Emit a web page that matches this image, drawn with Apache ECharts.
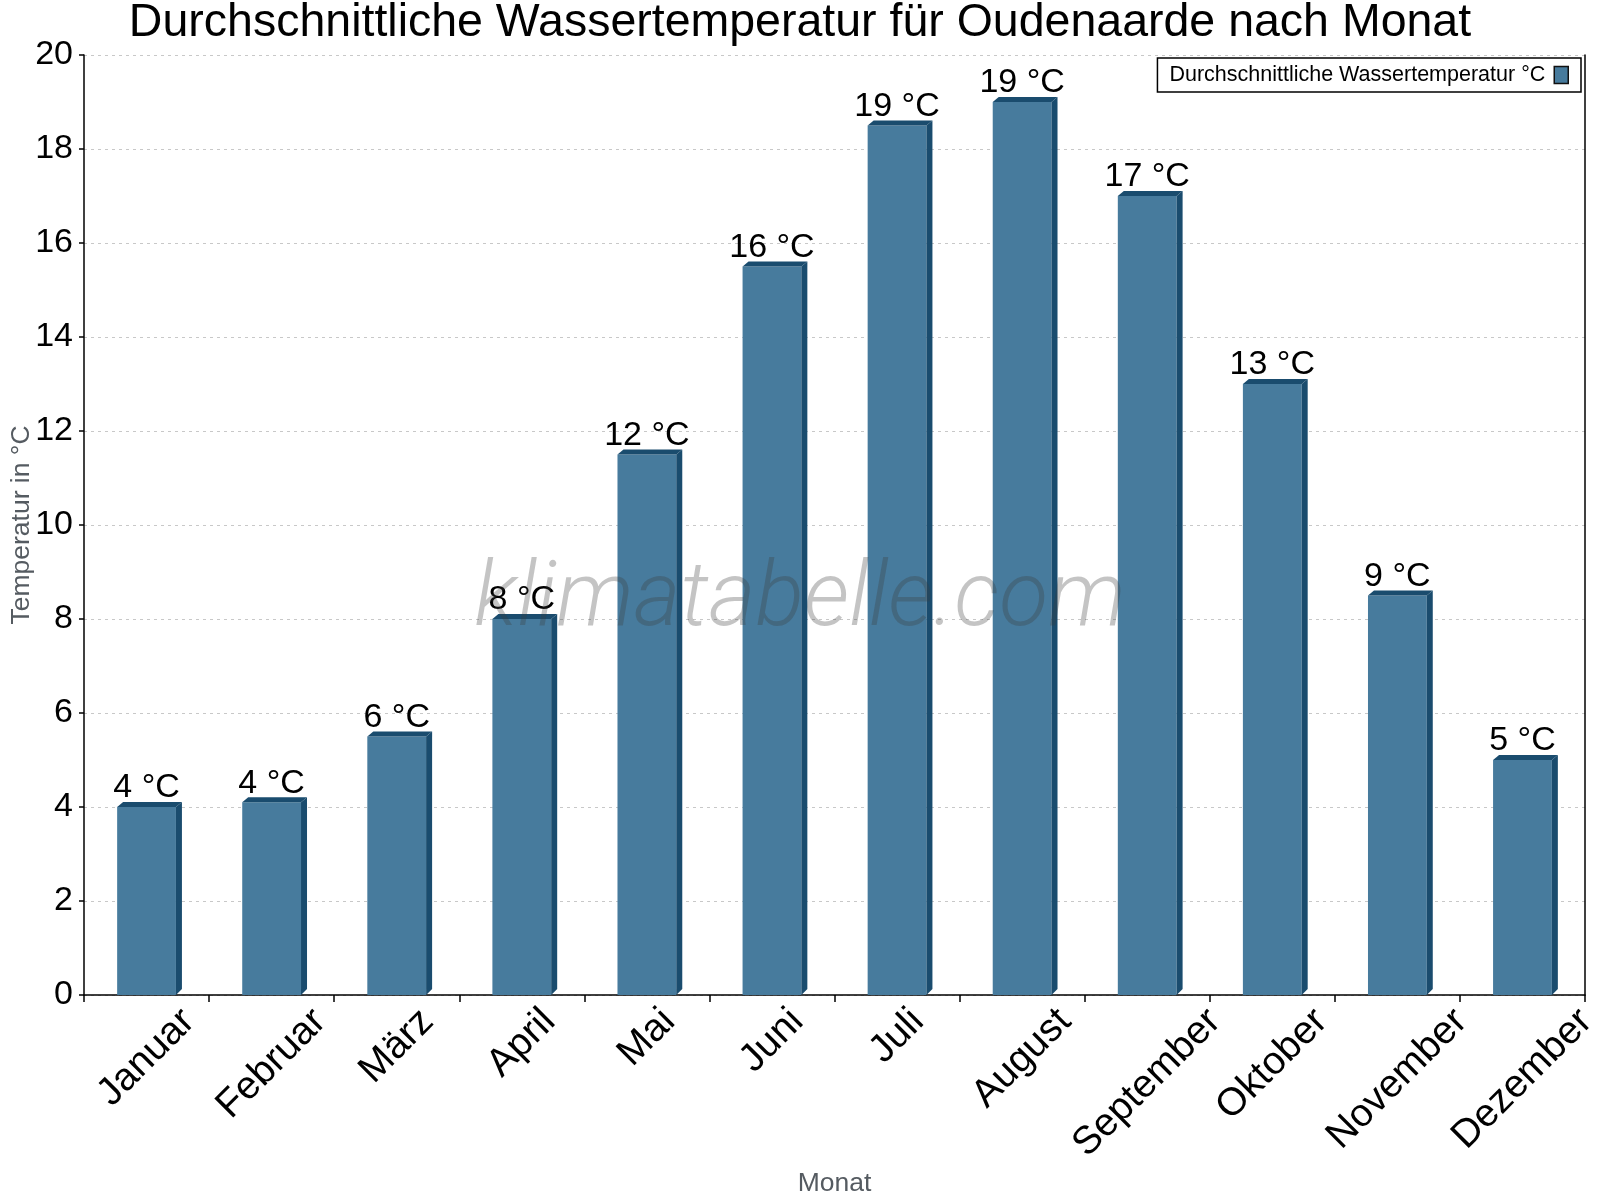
<!DOCTYPE html>
<html>
<head>
<meta charset="utf-8">
<script src="https://cdn.jsdelivr.net/npm/echarts@6/dist/echarts.min.js"></script>
<style>
html,body{margin:0;padding:0;background:#fff;}
#chart{width:1600px;height:1200px;}
</style>
</head>
<body>
<div id="chart"></div>
<script>
const months = ['Januar','Februar','März','April','Mai','Juni','Juli','August','September','Oktober','November','Dezember'];
const waterTemp = [4.0, 4.1, 5.5, 8.0, 11.5, 15.5, 18.5, 19.0, 17.0, 13.0, 8.5, 5.0];
const yTicks = { min: 0, max: 20, interval: 2 };
const seriesName = 'Durchschnittliche Wassertemperatur °C';
const titleText = 'Durchschnittliche Wassertemperatur für Oudenaarde nach Monat';

const FONT = '"Liberation Sans", Arial, sans-serif';
const FRONT = '#477b9d';
const SIDE = '#1a4c6e';
const XLABEL_SIZE = 39;
const XLABEL_LH = 44;
const XLABEL_CENTER = 88; // distance from axis to the centre of the longest rotated label

// rotated labels hang from a common top line and are centred on their category:
// shorter labels are lifted by moving the text inside its (rotated) box with padding
const ctx = document.createElement('canvas').getContext('2d');
ctx.font = XLABEL_SIZE + 'px "Liberation Sans"';
const widths = months.map(m => ctx.measureText(m).width);
const wMax = Math.max.apply(null, widths);
const wMin = Math.min.apply(null, widths);
const K = XLABEL_LH / 2 + (wMax - wMin) / 4;
const xData = months.map((m, i) => {
  const diff = wMax - widths[i];
  return {
    value: m,
    textStyle: {
      align: 'center', verticalAlign: 'top', lineHeight: XLABEL_LH,
      padding: [K - XLABEL_LH / 2 - diff / 4, 2 * K, 0, diff / 2]
    }
  };
});

const chart = echarts.init(document.getElementById('chart'), null, { renderer: 'canvas' });

function renderBar(params, api) {
  const v = api.value(1);
  const top = api.coord([api.value(0), v]);
  const base = api.coord([api.value(0), 0]);
  const cw = api.size([1, 0])[0];
  const w = cw * 0.47;
  const x0 = top[0] - w / 2, x1 = top[0] + w / 2;
  const d = 6;
  return {
    type: 'group',
    children: [
      { type: 'rect', shape: { x: x0, y: top[1], width: w, height: base[1] - top[1] }, style: { fill: FRONT } },
      { type: 'polygon', shape: { points: [[x1, top[1]], [x1 + d, top[1] - d + 1], [x1 + d, base[1] - d], [x1, base[1]]] }, style: { fill: SIDE } },
      { type: 'polygon', shape: { points: [[x0, top[1]], [x0 + d, top[1] - d + 1], [x1 + d, top[1] - d + 1], [x1, top[1]]] }, style: { fill: SIDE } },
      { type: 'text', x: top[0], y: top[1] - 2, style: { text: Math.round(v) + ' °C', fill: '#000', font: '34px ' + FONT, align: 'center', verticalAlign: 'bottom' } }
    ]
  };
}

const option = {
  backgroundColor: '#fff',
  animation: false,
  title: {
    text: titleText, left: 'center', top: 0, padding: 0,
    textStyle: { fontFamily: FONT, fontSize: 46.5, fontWeight: 'normal', color: '#000' }
  },
  legend: {
    data: [{ name: seriesName, icon: 'rect', itemStyle: { color: FRONT, borderColor: '#111', borderWidth: 1.5 } }],
    right: 19, top: 58, align: 'right', orient: 'horizontal',
    itemWidth: 14, itemHeight: 17, itemGap: 10,
    padding: [6, 12, 6, 12],
    borderColor: '#000', borderWidth: 1.5, backgroundColor: '#fff',
    textStyle: { fontFamily: FONT, fontSize: 21.5, color: '#000', padding: [0, 4, 0, 0] }
  },
  grid: { left: 84, right: 15, top: 55, bottom: 205, containLabel: false, outerBoundsMode: 'none' },
  xAxis: {
    type: 'category', data: xData,
    name: 'Monat', nameLocation: 'middle', nameGap: 175, nameMoveOverlap: false,
    nameTextStyle: { fontFamily: FONT, fontSize: 26.5, color: '#555b61' },
    axisLine: { show: true, lineStyle: { color: '#000', width: 1.5 } },
    axisTick: { show: true, length: 7, lineStyle: { color: '#000', width: 1.5 }, alignWithLabel: false },
    axisLabel: {
      interval: 0, rotate: 45, margin: XLABEL_CENTER - Math.SQRT2 * K,
      fontFamily: FONT, fontSize: XLABEL_SIZE, color: '#000'
    },
    splitLine: { show: false }
  },
  yAxis: [{
    type: 'value', min: yTicks.min, max: yTicks.max, interval: yTicks.interval,
    name: 'Temperatur in °C', nameLocation: 'middle', nameGap: 49, nameRotate: 90, nameMoveOverlap: false,
    nameTextStyle: { fontFamily: FONT, fontSize: 26.5, color: '#555b61' },
    axisLine: { show: true, lineStyle: { color: '#000', width: 1.5 } },
    axisTick: { show: true, length: 5, lineStyle: { color: '#000', width: 1.5 } },
    axisLabel: { fontFamily: FONT, fontSize: 34, color: '#000', margin: 11 },
    splitLine: { show: true, lineStyle: { color: '#c8c8c8', width: 1, type: [3, 4] } }
  }, {
    type: 'value', position: 'right', min: yTicks.min, max: yTicks.max, interval: yTicks.interval,
    axisLine: { show: true, lineStyle: { color: '#000', width: 1.5 } },
    axisTick: { show: false }, axisLabel: { show: false }, splitLine: { show: false }
  }],
  series: [{
    name: seriesName, type: 'custom', renderItem: renderBar,
    itemStyle: { color: FRONT },
    encode: { x: 0, y: 1 },
    data: waterTemp.map((t, i) => [i, t]),
    z: 2
  }],
  graphic: [{
    type: 'text', left: 'center', top: 557, z: 100, silent: true,
    style: { text: 'klimatabelle.com', font: 'italic 300 90px Roboto, "Liberation Sans", sans-serif', fill: 'rgba(60,60,60,0.3)' }
  }]
};
chart.setOption(option);
</script>
</body>
</html>
